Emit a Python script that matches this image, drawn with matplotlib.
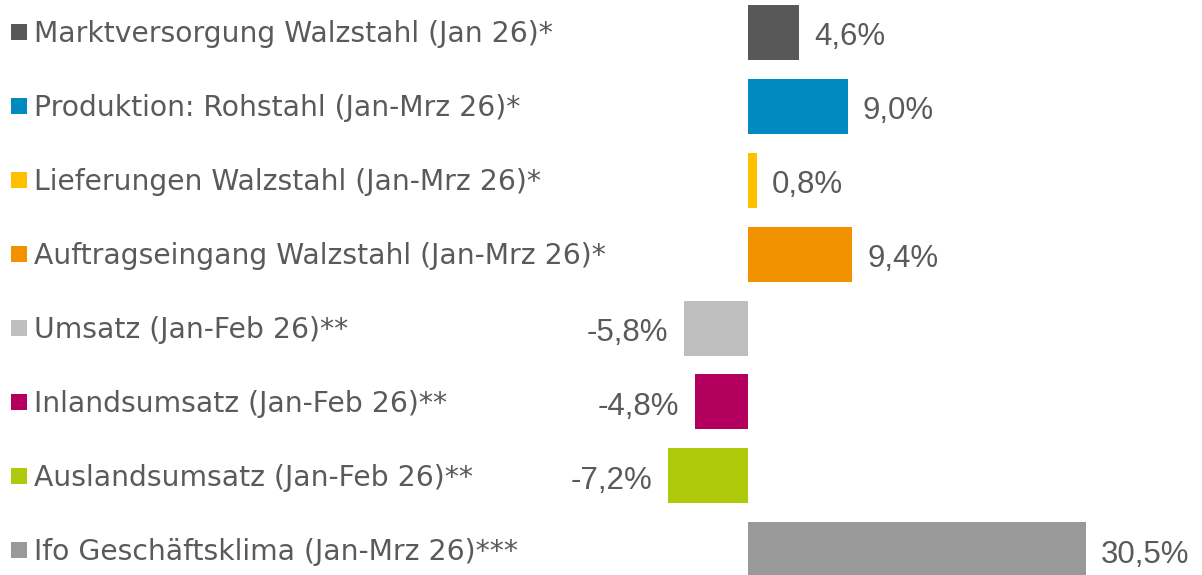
import matplotlib.pyplot as plt
import matplotlib.transforms as mtransforms

# Data
labels = [
    "Marktversorgung Walzstahl (Jan 26)*",
    "Produktion: Rohstahl (Jan-Mrz 26)*",
    "Lieferungen Walzstahl (Jan-Mrz 26)*",
    "Auftragseingang Walzstahl (Jan-Mrz 26)*",
    "Umsatz (Jan-Feb 26)**",
    "Inlandsumsatz (Jan-Feb 26)**",
    "Auslandsumsatz (Jan-Feb 26)**",
    "Ifo Geschäftsklima (Jan-Mrz 26)***",
]
values = [4.6, 9.0, 0.8, 9.4, -5.8, -4.8, -7.2, 30.5]
colors = ["#585858", "#008ABF", "#FFC000", "#F39200",
          "#BFBFBF", "#B3005E", "#AFCA0B", "#999999"]

text_col = "#5a5a5a"

W, H = 1202, 575
fig = plt.figure(figsize=(W / 100, H / 100), dpi=100)
ax = fig.add_axes([0, 0, 1, 1])

# pixel geometry -> data limits
zero_px, px_per_unit = 748, 11.08
row0_px, pitch_px = 32.5, 73.9
ax.set_xlim(-zero_px / px_per_unit, (W - zero_px) / px_per_unit)
ax.set_ylim((H - row0_px) / pitch_px, -row0_px / pitch_px)
ax.axis("off")

ypos = list(range(len(values)))
ax.barh(ypos, values, height=55 / pitch_px, color=colors)

# category labels with colored squares on the left
blend = mtransforms.blended_transform_factory(ax.transAxes, ax.transData)
for y, lab, c in zip(ypos, labels, colors):
    ax.scatter([18.5 / W], [y], marker="s", s=125, color=c, transform=blend,
               linewidths=0, clip_on=False)
    ax.annotate(lab, (34 / W, y), xycoords=blend, xytext=(0, -10),
                textcoords="offset pixels", fontsize=20.3, family="DejaVu Sans",
                color=text_col, va="baseline", ha="left")

# value labels
for y, v in zip(ypos, values):
    s = f"{v:.1f}%".replace(".", ",")
    dx, ha = (15, "left") if v >= 0 else (-16, "right")
    ax.annotate(s, (v, y), xytext=(dx, -13), textcoords="offset pixels",
                ha=ha, va="baseline", fontsize=22.5,
                family="Liberation Sans", color=text_col)

fig.savefig("out.png", dpi=100)
